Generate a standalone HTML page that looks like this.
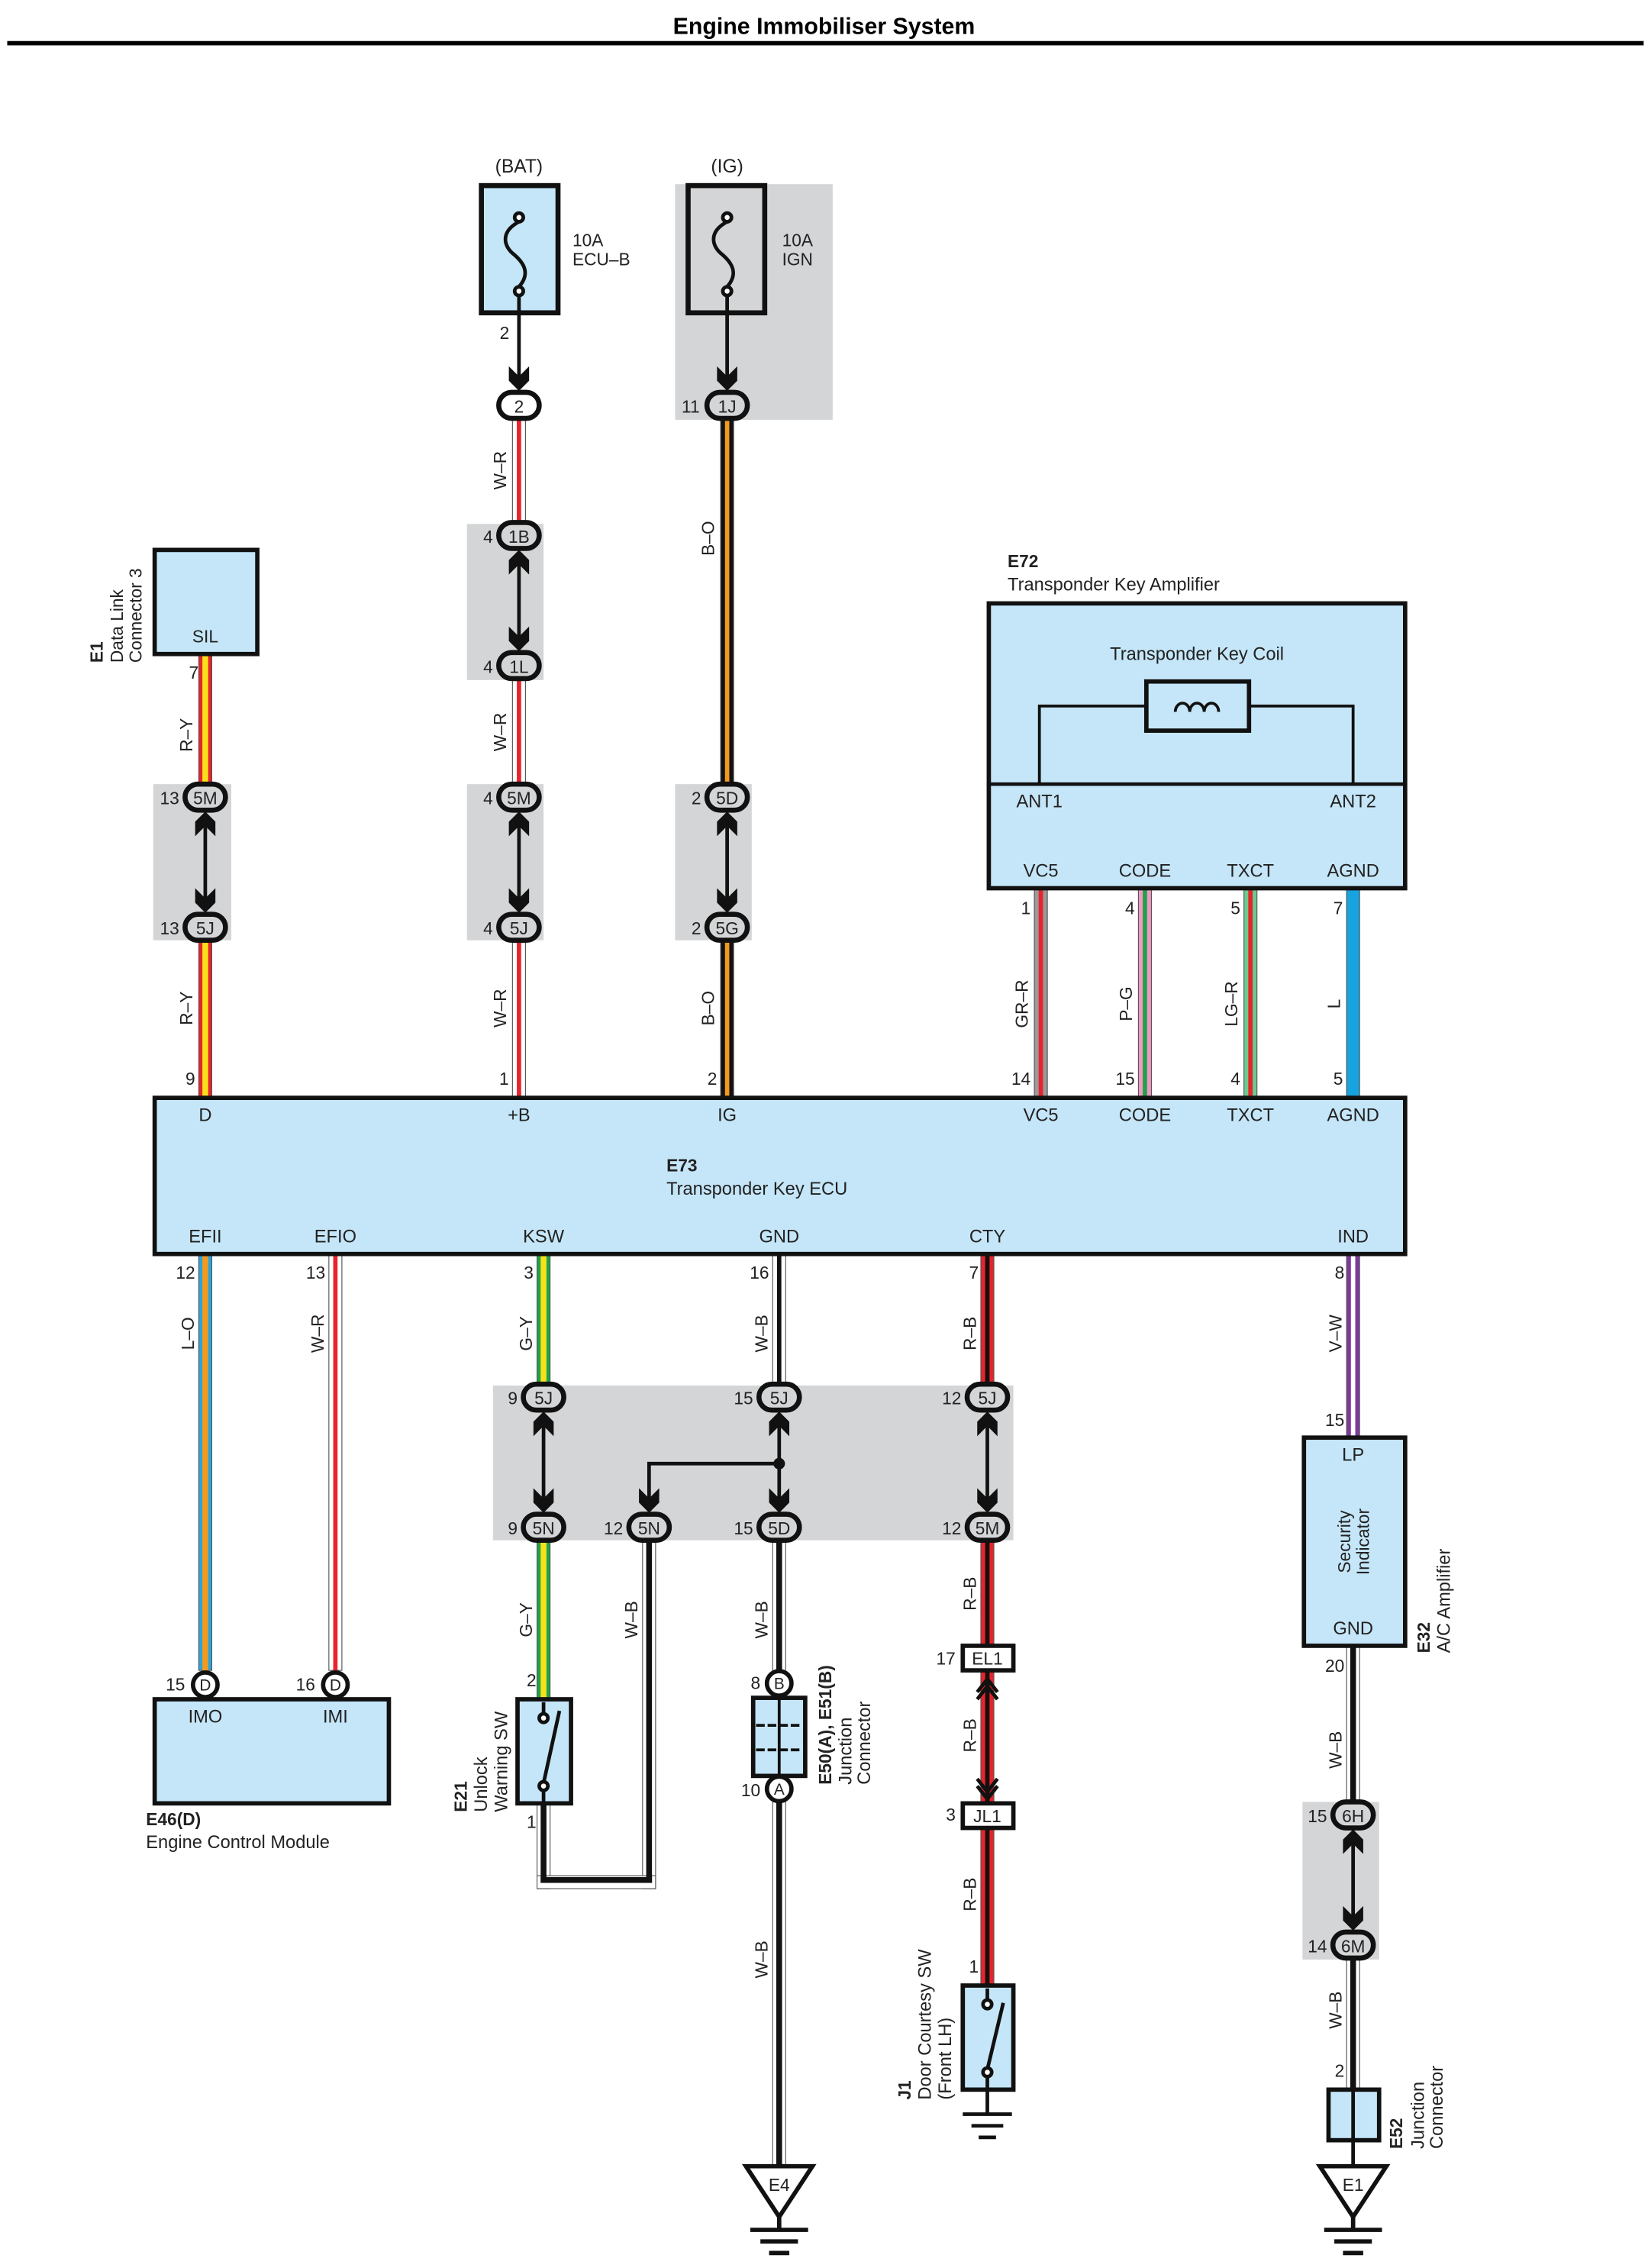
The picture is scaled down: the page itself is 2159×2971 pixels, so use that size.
<!DOCTYPE html>
<html><head><meta charset="utf-8"><style>
html,body{margin:0;padding:0;background:#fff}
svg{display:block}
text{font-family:"Liberation Sans",Arial,sans-serif;fill:#222}
</style></head><body>
<svg width="2159" height="2971" viewBox="0 0 1140 1568" xmlns="http://www.w3.org/2000/svg">
<defs>
<path id="ad" d="M-7,-17 L0,-10 L7,-17 L7,-7 L0,0 L-7,-7 Z" fill="#111"/>
<path id="au" d="M-7,17 L0,10 L7,17 L7,7 L0,0 L-7,7 Z" fill="#111"/>
</defs>
<rect width="1140" height="1568" fill="#fff"/>
<text x="570" y="23" font-size="16" font-weight="bold" text-anchor="middle" style="fill:#000">Engine Immobiliser System</text>
<rect x="5" y="28" width="1132" height="3" fill="#000"/>

<g fill="#d4d5d7">
<rect x="467" y="127" width="109" height="163"/>
<rect x="323" y="362" width="53" height="108"/>
<rect x="106" y="542" width="54" height="108"/>
<rect x="323" y="542" width="53" height="108"/>
<rect x="467" y="542" width="53" height="108"/>
<rect x="341" y="958" width="360" height="107"/>
<rect x="901" y="1246" width="53" height="109"/>
</g>

<g stroke="#555" stroke-width="0.6">
<rect x="354.5" y="290" width="9" height="72" fill="#fff"/>
<rect x="354.5" y="470" width="9" height="72" fill="#fff"/>
<rect x="354.5" y="650" width="9" height="108" fill="#fff"/>
<rect x="137.5" y="452" width="9" height="90" fill="#e8232b"/>
<rect x="137.5" y="650" width="9" height="108" fill="#e8232b"/>
<rect x="498.5" y="290" width="9" height="252" fill="#111"/>
<rect x="498.5" y="650" width="9" height="108" fill="#111"/>
<rect x="715.5" y="614" width="9" height="144" fill="#9a9a9a"/>
<rect x="787.5" y="614" width="9" height="144" fill="#f29ac2"/>
<rect x="860.5" y="614" width="9" height="144" fill="#6cc98e"/>
<rect x="931.5" y="614" width="9" height="144" fill="#16a3e0"/>
<rect x="137.5" y="867" width="9" height="288" fill="#2ba4de"/>
<rect x="227.5" y="867" width="9" height="288" fill="#fff"/>
<rect x="371.5" y="867" width="9" height="91" fill="#1fa34a"/>
<rect x="534.5" y="867" width="9" height="91" fill="#fff"/>
<rect x="678.5" y="867" width="9" height="91" fill="#e8232b"/>
<rect x="931.5" y="867" width="9" height="127" fill="#7d3a9b"/>
<rect x="371.5" y="1066" width="9" height="109" fill="#1fa34a"/>
<rect x="444.5" y="1066" width="9" height="240" fill="#fff"/>
<rect x="371.5" y="1247" width="9" height="59" fill="#fff"/>
<rect x="371.5" y="1297" width="82" height="9" fill="#fff"/>
<rect x="534.5" y="1066" width="9" height="90" fill="#fff"/>
<rect x="534.5" y="1246" width="9" height="251" fill="#fff"/>
<rect x="678.5" y="1066" width="9" height="72" fill="#e8232b"/>
<rect x="678.5" y="1155" width="9" height="91" fill="#e8232b"/>
<rect x="678.5" y="1264" width="9" height="109" fill="#e8232b"/>
<rect x="931.5" y="1138" width="9" height="108" fill="#fff"/>
<rect x="931.5" y="1355" width="9" height="90" fill="#fff"/>
</g>
<g stroke="none">
<rect x="357.5" y="290" width="3" height="72" fill="#e8232b"/>
<rect x="357.5" y="470" width="3" height="72" fill="#e8232b"/>
<rect x="357.5" y="650" width="3" height="108" fill="#e8232b"/>
<rect x="140" y="452" width="4" height="90" fill="#f7e11a"/>
<rect x="140" y="650" width="4" height="108" fill="#f7e11a"/>
<rect x="501.5" y="290" width="3" height="252" fill="#f39a1e"/>
<rect x="501.5" y="650" width="3" height="108" fill="#f39a1e"/>
<rect x="718.5" y="614" width="3" height="144" fill="#e8232b"/>
<rect x="790.5" y="614" width="3" height="144" fill="#1fa34a"/>
<rect x="863.5" y="614" width="3" height="144" fill="#e8232b"/>
<rect x="140" y="867" width="4" height="288" fill="#f39a1e"/>
<rect x="230.5" y="867" width="3" height="288" fill="#e8232b"/>
<rect x="374" y="867" width="4" height="91" fill="#f7e11a"/>
<rect x="537.5" y="867" width="3" height="91" fill="#111"/>
<rect x="681.5" y="867" width="3" height="91" fill="#111"/>
<rect x="934.5" y="867" width="3" height="127" fill="#fff"/>
<rect x="374" y="1066" width="4" height="109" fill="#f7e11a"/>
<rect x="447" y="1066" width="4" height="236" fill="#111"/>
<rect x="374" y="1247" width="4" height="55" fill="#111"/>
<rect x="374" y="1298" width="77" height="4" fill="#111"/>
<rect x="537" y="1066" width="4" height="90" fill="#111"/>
<rect x="537" y="1246" width="4" height="251" fill="#111"/>
<rect x="681.5" y="1066" width="3" height="72" fill="#111"/>
<rect x="681.5" y="1155" width="3" height="91" fill="#111"/>
<rect x="681.5" y="1264" width="3" height="109" fill="#111"/>
<rect x="934" y="1138" width="4" height="108" fill="#111"/>
<rect x="934" y="1355" width="4" height="90" fill="#111"/>
</g>

<rect x="333" y="128" width="53" height="88" fill="#c5e6f8" stroke="#111" stroke-width="3.5"/>
<rect x="476" y="128" width="53" height="88" fill="#d4d5d7" stroke="#111" stroke-width="3.5"/>
<g fill="none" stroke="#111" stroke-width="2.5">
<path d="M359,153 C346,160 348,170 356,176 C364,183 366,190 359,198"/>
<path d="M503,153 C490,160 492,170 500,176 C508,183 510,190 503,198"/>
<circle cx="359" cy="150" r="3" fill="#fff"/><circle cx="359" cy="201" r="3" fill="#fff"/>
<circle cx="503" cy="150" r="3" fill="#fff"/><circle cx="503" cy="201" r="3" fill="#fff"/>
<line x1="359" y1="204" x2="359" y2="262"/>
<line x1="503" y1="204" x2="503" y2="262"/>
</g>
<text x="359" y="119" font-size="13" text-anchor="middle">(BAT)</text>
<text x="503" y="119" font-size="13" text-anchor="middle">(IG)</text>
<text x="396" y="170" font-size="12">10A</text><text x="396" y="183" font-size="12">ECU–B</text>
<text x="541" y="170" font-size="12">10A</text><text x="541" y="183" font-size="12">IGN</text>
<text x="349" y="234" font-size="12" text-anchor="middle">2</text>

<g stroke="#111" stroke-width="2.5">
<line x1="359" y1="385" x2="359" y2="445"/>
<line x1="142" y1="565" x2="142" y2="625"/>
<line x1="359" y1="565" x2="359" y2="625"/>
<line x1="503" y1="565" x2="503" y2="625"/>
<line x1="376" y1="980" x2="376" y2="1040"/>
<line x1="539" y1="980" x2="539" y2="1040"/>
<line x1="683" y1="980" x2="683" y2="1040"/>
<polyline points="539,1012 449,1012 449,1040" fill="none"/>
<line x1="936" y1="1270" x2="936" y2="1330"/>
</g>
<circle cx="539" cy="1012" r="4" fill="#111"/>
<use href="#ad" x="359" y="270"/><use href="#ad" x="503" y="270"/>
<use href="#au" x="359" y="380"/><use href="#ad" x="359" y="450"/>
<use href="#au" x="142" y="561"/><use href="#ad" x="142" y="631"/>
<use href="#au" x="359" y="561"/><use href="#ad" x="359" y="631"/>
<use href="#au" x="503" y="561"/><use href="#ad" x="503" y="631"/>
<use href="#au" x="376" y="976"/><use href="#ad" x="376" y="1046"/>
<use href="#au" x="539" y="976"/><use href="#ad" x="539" y="1046"/>
<use href="#ad" x="449" y="1046"/>
<use href="#au" x="683" y="976"/><use href="#ad" x="683" y="1046"/>
<use href="#au" x="936" y="1265"/><use href="#ad" x="936" y="1335"/>

<g stroke="#111" stroke-width="3.5" fill="#d4d5d7">
<rect x="345" y="271" width="28" height="18" rx="9" fill="#fff"/>
<rect x="489" y="271" width="28" height="18" rx="9"/>
<rect x="345" y="361" width="28" height="18" rx="9"/>
<rect x="345" y="451" width="28" height="18" rx="9"/>
<rect x="128" y="542" width="28" height="18" rx="9"/>
<rect x="128" y="632" width="28" height="18" rx="9"/>
<rect x="345" y="542" width="28" height="18" rx="9"/>
<rect x="345" y="632" width="28" height="18" rx="9"/>
<rect x="489" y="542" width="28" height="18" rx="9"/>
<rect x="489" y="632" width="28" height="18" rx="9"/>
<rect x="362" y="957" width="28" height="18" rx="9"/>
<rect x="525" y="957" width="28" height="18" rx="9"/>
<rect x="669" y="957" width="28" height="18" rx="9"/>
<rect x="362" y="1047" width="28" height="18" rx="9"/>
<rect x="435" y="1047" width="28" height="18" rx="9"/>
<rect x="525" y="1047" width="28" height="18" rx="9"/>
<rect x="669" y="1047" width="28" height="18" rx="9"/>
<rect x="922" y="1246" width="28" height="18" rx="9"/>
<rect x="922" y="1336" width="28" height="18" rx="9"/>
</g>
<g font-size="12" text-anchor="middle">
<text x="359" y="285">2</text><text x="503" y="285">1J</text>
<text x="359" y="375">1B</text><text x="359" y="465">1L</text>
<text x="142" y="556">5M</text><text x="142" y="646">5J</text>
<text x="359" y="556">5M</text><text x="359" y="646">5J</text>
<text x="503" y="556">5D</text><text x="503" y="646">5G</text>
<text x="376" y="971">5J</text><text x="539" y="971">5J</text><text x="683" y="971">5J</text>
<text x="376" y="1061">5N</text><text x="449" y="1061">5N</text><text x="539" y="1061">5D</text><text x="683" y="1061">5M</text>
<text x="936" y="1260">6H</text><text x="936" y="1350">6M</text>
</g>
<g font-size="12" text-anchor="end">
<text x="484" y="285">11</text>
<text x="341" y="375">4</text><text x="341" y="465">4</text>
<text x="124" y="556">13</text><text x="124" y="646">13</text>
<text x="341" y="556">4</text><text x="341" y="646">4</text>
<text x="485" y="556">2</text><text x="485" y="646">2</text>
<text x="358" y="971">9</text><text x="521" y="971">15</text><text x="665" y="971">12</text>
<text x="358" y="1061">9</text><text x="431" y="1061">12</text><text x="521" y="1061">15</text><text x="665" y="1061">12</text>
<text x="918" y="1260">15</text><text x="918" y="1350">14</text>
</g>

<rect x="107" y="380" width="71" height="72" fill="#c5e6f8" stroke="#111" stroke-width="3"/>
<text x="142" y="444" font-size="12" text-anchor="middle">SIL</text>
<text x="134" y="469" font-size="12" text-anchor="middle">7</text>
<g transform="translate(71,458) rotate(-90)"><text font-size="12" font-weight="bold">E1</text></g>
<g transform="translate(85,458) rotate(-90)"><text font-size="12">Data Link</text></g>
<g transform="translate(98,458) rotate(-90)"><text font-size="12">Connector 3</text></g>

<text x="697" y="392" font-size="12" font-weight="bold">E72</text>
<text x="697" y="408" font-size="12.5">Transponder Key Amplifier</text>
<rect x="684" y="417" width="288" height="197" fill="#c5e6f8" stroke="#111" stroke-width="3"/>
<line x1="684" y1="542" x2="972" y2="542" stroke="#111" stroke-width="2.5"/>
<text x="828" y="456" font-size="12.5" text-anchor="middle">Transponder Key Coil</text>
<polyline points="719,542 719,488 793,488" fill="none" stroke="#111" stroke-width="2"/>
<polyline points="864,488 936,488 936,542" fill="none" stroke="#111" stroke-width="2"/>
<rect x="793" y="471" width="71" height="34" fill="#c5e6f8" stroke="#111" stroke-width="3"/>
<path d="M813,492 a5,6 0 1 1 10,0 a5,6 0 1 1 10,0 a5,6 0 1 1 10,0" fill="none" stroke="#111" stroke-width="2"/>
<g font-size="12.5" text-anchor="middle">
<text x="719" y="558">ANT1</text><text x="936" y="558">ANT2</text>
<text x="720" y="606">VC5</text><text x="792" y="606">CODE</text><text x="865" y="606">TXCT</text><text x="936" y="606">AGND</text>
</g>
<g font-size="12" text-anchor="end">
<text x="713" y="632">1</text><text x="785" y="632">4</text><text x="858" y="632">5</text><text x="929" y="632">7</text>
<text x="713" y="750">14</text><text x="785" y="750">15</text><text x="858" y="750">4</text><text x="929" y="750">5</text>
<text x="135" y="750">9</text><text x="352" y="750">1</text><text x="496" y="750">2</text>
</g>

<g font-size="12" text-anchor="middle">
<g transform="translate(133,508) rotate(-90)"><text>R–Y</text></g>
<g transform="translate(133,697) rotate(-90)"><text>R–Y</text></g>
<g transform="translate(350,325) rotate(-90)"><text>W–R</text></g>
<g transform="translate(350,506) rotate(-90)"><text>W–R</text></g>
<g transform="translate(350,697) rotate(-90)"><text>W–R</text></g>
<g transform="translate(494,372) rotate(-90)"><text>B–O</text></g>
<g transform="translate(494,697) rotate(-90)"><text>B–O</text></g>
<g transform="translate(711,694) rotate(-90)"><text>GR–R</text></g>
<g transform="translate(783,694) rotate(-90)"><text>P–G</text></g>
<g transform="translate(856,694) rotate(-90)"><text>LG–R</text></g>
<g transform="translate(927,694) rotate(-90)"><text>L</text></g>
</g>

<rect x="107" y="759" width="865" height="108" fill="#c5e6f8" stroke="#111" stroke-width="3"/>
<g font-size="12.5" text-anchor="middle">
<text x="142" y="775">D</text><text x="359" y="775">+B</text><text x="503" y="775">IG</text>
<text x="720" y="775">VC5</text><text x="792" y="775">CODE</text><text x="865" y="775">TXCT</text><text x="936" y="775">AGND</text>
<text x="142" y="859">EFII</text><text x="232" y="859">EFIO</text><text x="376" y="859">KSW</text>
<text x="539" y="859">GND</text><text x="683" y="859">CTY</text><text x="936" y="859">IND</text>
</g>
<text x="461" y="810" font-size="12" font-weight="bold">E73</text>
<text x="461" y="826" font-size="12.5">Transponder Key ECU</text>

<g font-size="12" text-anchor="end">
<text x="135" y="884">12</text><text x="225" y="884">13</text><text x="369" y="884">3</text>
<text x="532" y="884">16</text><text x="677" y="884">7</text><text x="930" y="884">8</text>
<text x="930" y="986">15</text><text x="930" y="1156">20</text>
<text x="371" y="1166">2</text><text x="371" y="1264">1</text>
<text x="526" y="1168">8</text><text x="526" y="1242">10</text>
<text x="661" y="1151">17</text><text x="661" y="1259">3</text>
<text x="677" y="1364">1</text><text x="930" y="1436">2</text>
<text x="128" y="1169">15</text><text x="218" y="1169">16</text>
</g>
<g font-size="12" text-anchor="middle">
<g transform="translate(134,922) rotate(-90)"><text>L–O</text></g>
<g transform="translate(224,922) rotate(-90)"><text>W–R</text></g>
<g transform="translate(368,922) rotate(-90)"><text>G–Y</text></g>
<g transform="translate(531,922) rotate(-90)"><text>W–B</text></g>
<g transform="translate(675,922) rotate(-90)"><text>R–B</text></g>
<g transform="translate(928,922) rotate(-90)"><text>V–W</text></g>
<g transform="translate(368,1120) rotate(-90)"><text>G–Y</text></g>
<g transform="translate(441,1120) rotate(-90)"><text>W–B</text></g>
<g transform="translate(531,1120) rotate(-90)"><text>W–B</text></g>
<g transform="translate(675,1102) rotate(-90)"><text>R–B</text></g>
<g transform="translate(675,1200) rotate(-90)"><text>R–B</text></g>
<g transform="translate(675,1310) rotate(-90)"><text>R–B</text></g>
<g transform="translate(531,1355) rotate(-90)"><text>W–B</text></g>
<g transform="translate(928,1210) rotate(-90)"><text>W–B</text></g>
<g transform="translate(928,1390) rotate(-90)"><text>W–B</text></g>
</g>

<rect x="107" y="1175" width="162" height="72" fill="#c5e6f8" stroke="#111" stroke-width="3"/>
<circle cx="142" cy="1165" r="8.5" fill="#fff" stroke="#111" stroke-width="3"/>
<circle cx="232" cy="1165" r="8.5" fill="#fff" stroke="#111" stroke-width="3"/>
<text x="142" y="1169" font-size="11" text-anchor="middle">D</text>
<text x="232" y="1169" font-size="11" text-anchor="middle">D</text>
<text x="142" y="1191" font-size="12.5" text-anchor="middle">IMO</text>
<text x="232" y="1191" font-size="12.5" text-anchor="middle">IMI</text>
<text x="101" y="1262" font-size="12" font-weight="bold">E46(D)</text>
<text x="101" y="1278" font-size="12.5">Engine Control Module</text>

<rect x="358" y="1175" width="37" height="72" fill="#c5e6f8" stroke="#111" stroke-width="3"/>
<g stroke="#111" stroke-width="2.5" fill="#fff">
<line x1="376" y1="1177" x2="376" y2="1185"/>
<line x1="376" y1="1238" x2="376" y2="1246"/>
<line x1="376" y1="1233" x2="387" y2="1183"/>
<circle cx="376" cy="1188" r="3"/><circle cx="376" cy="1235" r="3"/>
</g>
<g transform="translate(323,1253) rotate(-90)"><text font-size="12" font-weight="bold">E21</text></g>
<g transform="translate(337,1253) rotate(-90)"><text font-size="12.5">Unlock</text></g>
<g transform="translate(351,1253) rotate(-90)"><text font-size="12.5">Warning SW</text></g>

<rect x="521" y="1174" width="36" height="54" fill="#c5e6f8" stroke="#111" stroke-width="3"/>
<line x1="539" y1="1174" x2="539" y2="1228" stroke="#111" stroke-width="2"/>
<line x1="523" y1="1193" x2="555" y2="1193" stroke="#111" stroke-width="2" stroke-dasharray="6,2"/>
<line x1="523" y1="1210" x2="555" y2="1210" stroke="#111" stroke-width="2" stroke-dasharray="6,2"/>
<circle cx="539" cy="1164" r="8.5" fill="#fff" stroke="#111" stroke-width="3"/>
<circle cx="539" cy="1237" r="8.5" fill="#fff" stroke="#111" stroke-width="3"/>
<text x="539" y="1168" font-size="11" text-anchor="middle">B</text>
<text x="539" y="1241" font-size="11" text-anchor="middle">A</text>
<g transform="translate(575,1234) rotate(-90)"><text font-size="12" font-weight="bold">E50(A), E51(B)</text></g>
<g transform="translate(589,1234) rotate(-90)"><text font-size="12.5">Junction</text></g>
<g transform="translate(602,1234) rotate(-90)"><text font-size="12.5">Connector</text></g>

<rect x="666" y="1138" width="35" height="17" fill="#fff" stroke="#111" stroke-width="3"/>
<rect x="666" y="1247" width="35" height="17" fill="#fff" stroke="#111" stroke-width="3"/>
<text x="683" y="1151" font-size="12" text-anchor="middle">EL1</text>
<text x="683" y="1260" font-size="12" text-anchor="middle">JL1</text>
<g fill="none" stroke="#111" stroke-width="2.5">
<polyline points="676,1170 683,1161 690,1170"/><polyline points="676,1175 683,1166 690,1175"/>
<polyline points="676,1230 683,1239 690,1230"/><polyline points="676,1235 683,1244 690,1235"/>
</g>

<rect x="666" y="1373" width="35" height="72" fill="#c5e6f8" stroke="#111" stroke-width="3"/>
<g stroke="#111" stroke-width="2.5" fill="#fff">
<line x1="683" y1="1375" x2="683" y2="1383"/>
<line x1="683" y1="1436" x2="683" y2="1462"/>
<line x1="683" y1="1431" x2="694" y2="1385"/>
<circle cx="683" cy="1386" r="3"/><circle cx="683" cy="1433" r="3"/>
<line x1="666" y1="1462" x2="700" y2="1462"/>
<line x1="672" y1="1470" x2="694" y2="1470"/>
<line x1="677" y1="1478" x2="689" y2="1478"/>
</g>
<g transform="translate(630,1452) rotate(-90)"><text font-size="12" font-weight="bold">J1</text></g>
<g transform="translate(644,1452) rotate(-90)"><text font-size="12.5">Door Courtesy SW</text></g>
<g transform="translate(658,1452) rotate(-90)"><text font-size="12.5">(Front LH)</text></g>

<rect x="902" y="994" width="70" height="144" fill="#c5e6f8" stroke="#111" stroke-width="3"/>
<text x="936" y="1010" font-size="12.5" text-anchor="middle">LP</text>
<text x="936" y="1130" font-size="12.5" text-anchor="middle">GND</text>
<g transform="translate(934,1066) rotate(-90)"><text font-size="12" text-anchor="middle">Security</text></g>
<g transform="translate(947,1066) rotate(-90)"><text font-size="12" text-anchor="middle">Indicator</text></g>
<g transform="translate(989,1143) rotate(-90)"><text font-size="12" font-weight="bold">E32</text></g>
<g transform="translate(1003,1143) rotate(-90)"><text font-size="12.5">A/C Amplifier</text></g>

<rect x="919" y="1445" width="35" height="35" fill="#c5e6f8" stroke="#111" stroke-width="3"/>
<line x1="936" y1="1445" x2="936" y2="1497" stroke="#111" stroke-width="2.5"/>
<g transform="translate(970,1486) rotate(-90)"><text font-size="12" font-weight="bold">E52</text></g>
<g transform="translate(985,1486) rotate(-90)"><text font-size="12.5">Junction</text></g>
<g transform="translate(998,1486) rotate(-90)"><text font-size="12.5">Connector</text></g>

<g stroke="#111" stroke-width="3" fill="#fff">
<polygon points="516,1498 562,1498 539,1533"/>
<line x1="539" y1="1533" x2="539" y2="1542"/>
<line x1="519" y1="1542" x2="559" y2="1542"/>
<line x1="526" y1="1550" x2="552" y2="1550"/>
<line x1="532" y1="1558" x2="546" y2="1558"/>
<polygon points="913,1498 959,1498 936,1533"/>
<line x1="936" y1="1533" x2="936" y2="1542"/>
<line x1="916" y1="1542" x2="956" y2="1542"/>
<line x1="923" y1="1550" x2="949" y2="1550"/>
<line x1="929" y1="1558" x2="943" y2="1558"/>
</g>
<text x="539" y="1515" font-size="12" text-anchor="middle">E4</text>
<text x="936" y="1515" font-size="12" text-anchor="middle">E1</text>
</svg>
</body></html>
